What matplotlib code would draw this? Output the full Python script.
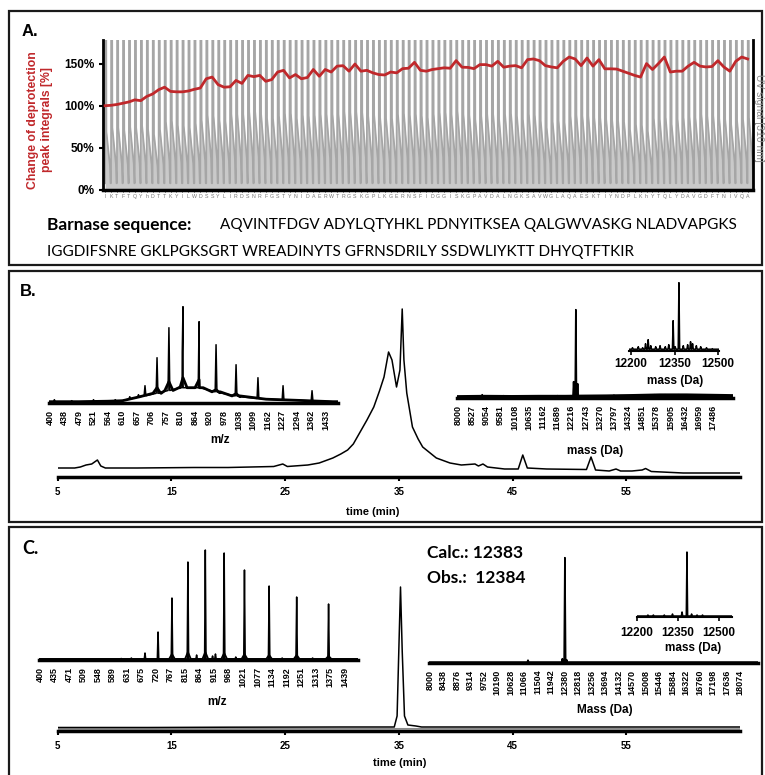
import numpy as np
import matplotlib.pyplot as plt
from matplotlib.patches import Rectangle

W, H = 765, 775
fig = plt.figure(figsize=(W / 100, H / 100), dpi=100)
plt.rcParams['font.family'] = ['Liberation Sans', 'DejaVu Sans']

RED = '#c0282b'
GREY = '#a6a6a6'

# ---------------- data ----------------
# Panel A: residues coupled (C -> N), deprotection change [%] and UV shoulder height
residues = "IKTFTQYhDTTKYILWDSSYLIRDSNRFGSTYNIDAERWTRGSKGPLKGERNSFIDGGISKGPAVDALNGKSAVWGLAQAESKTIYNDPLKhYTQLYDAVGDFTNIVQA"
deprot = [100, 100.5, 101.5, 103, 104.5, 107, 106, 111, 114, 119, 122, 117, 116.5, 116.5, 117.5,
          119.5, 121, 132, 134, 125, 122, 122.5, 130, 126.5, 136, 134.5, 136, 129, 131, 140,
          142, 133, 137, 132, 133.5, 143, 135, 143, 140, 147, 147.5, 141, 149.5, 141, 142,
          139, 137, 136.5, 140, 139, 144, 144.5, 151.5, 142, 141, 143, 144, 145, 144.5, 153.5,
          145.7, 145.5, 144, 148.8, 148.8, 147, 152.7, 145.7, 147, 147.6, 145, 154.7, 155.5, 153.5, 147.6,
          146, 145, 152.7, 157.8, 155.5, 147.6, 156.6, 147, 154.7, 143.8, 143.8, 143.5, 141, 138.5,
          136, 134, 150, 143, 150, 157.8, 140, 141, 141, 147, 151.5, 147, 146, 146.5, 153.5,
          146, 141, 152.7, 157.8, 155.5]
uv_shoulder = [69, 74, 74, 71, 75, 74, 76, 72, 66, 72, 81, 82, 77, 76, 74, 79, 83, 89, 88, 83,
               82, 90, 90, 90, 93, 93, 90, 85, 85, 88, 91, 91, 85, 89, 88, 89, 90, 90, 90, 90,
               93, 92, 93, 92, 88, 89, 86, 85, 85, 90, 91, 89, 90, 88, 86, 90, 92, 92, 90, 94,
               90, 89, 84, 88, 90, 90, 84, 90, 91, 88, 84, 90, 89, 82, 74, 81, 82, 80, 88, 89,
               88, 88, 86, 86, 84, 83, 82, 81, 72, 78, 77, 70, 85, 84, 86, 78, 84, 86, 87, 86,
               90, 88, 88, 85, 84, 78, 82, 84, 86]

seq_line1 = "AQVINTFDGV ADYLQTYHKL PDNYITKSEA QALGWVASKG NLADVAPGKS"
seq_line2 = "IGGDIFSNRE GKLPGKSGRT WREADINYTS GFRNSDRILY SSDWLIYKTT DHYQTFTKIR"

# Panel B: crude product
b_mz_labels = ['400', '438', '479', '521', '564', '610', '657', '706', '757', '810', '864', '920',
               '978', '1038', '1099', '1162', '1227', '1294', '1362', '1433']
b_mz_hump_x = [-0.07, 2, 4, 5, 6.2, 7.6, 8.96, 10.3, 11.7, 13.1, 14.9, 17.2, 19.5, 19.86]
b_mz_hump_y = [1, 1, 1.5, 2, 6, 10, 15, 15, 10, 6, 3.5, 2.3, 1, 1]
b_mz_peak_x = [0.3, 1.5, 3.0, 4.5, 5.5, 5.8, 6.1, 6.55, 7.38, 8.2, 9.12, 9.17, 10.28, 11.45,
               12.83, 14.34, 16.07, 18.07]
b_mz_peak_y = [3, 2, 3, 3, 6, 5, 8, 17, 45, 75, 51, 96, 81, 58, 38, 25, 17, 12]
b_mz_blob_x = [7.38, 8.2, 9.17, 10.28, 11.45, 12.83]
b_mz_blob_y = [15, 21, 25, 23, 13, 9]

b_time = [5, 6.5, 7.0, 7.5, 8.0, 8.5, 8.8, 9.2, 12, 17, 20, 24, 24.8, 25.2, 27, 28, 29.2, 29.9,
          30.5, 31.0, 31.6, 32.2, 32.8, 33.3, 33.7, 34.1, 34.4, 34.8, 35.1, 35.3, 35.45, 35.7, 36.2,
          36.7, 37.1, 38.3, 39.5, 40.5, 41.7, 42.0, 42.4, 42.8, 44.3, 45.5, 45.9, 46.3, 48, 51.5,
          51.9, 52.3, 53.5, 54.1, 54.5, 55.5, 56.4, 56.7, 57.2, 60, 65]
b_signal = [9, 9, 10, 12, 13, 17, 11, 9, 9, 9.5, 9.5, 10.5, 13, 10.5, 12, 14, 19, 23,
            27, 33, 45, 57, 70, 86, 100, 125, 117, 90, 107, 168, 117, 84, 50,
            38, 30, 19, 14, 12, 13, 11, 13, 10, 8, 8, 22, 9, 8, 7.5,
            20, 7, 6, 8, 6, 6, 7, 8.5, 5.5, 4, 4]

b_mass_ticks = [8000 + 527 * i for i in range(19)]
b_mass_base_x = [7963, 9000, 10000, 11000, 12000, 12600, 13500, 14500, 15500, 16500, 17500, 18228]
b_mass_base_y = [0.5, 0.8, 0.6, 0.8, 0.8, 1.0, 1.2, 1.6, 2.2, 2.2, 1.8, 1.5]
b_mass_peak_x = [8900, 9700, 11700, 12300, 12383, 12450, 13800, 15300, 15700, 16200]
b_mass_peak_y = [3, 2, 2, 16, 88, 14, 2.5, 3, 3, 3]

b_zoom_x = [12205, 12225, 12240, 12250, 12259, 12268, 12285, 12300, 12318, 12330, 12345,
            12352, 12365, 12380, 12395, 12405, 12412, 12425, 12440, 12460, 12480]
b_zoom_y = [3, 4, 3, 7, 11, 5, 4, 5, 4, 6, 30, 4, 68, 5, 6, 9, 7, 5, 4, 3, 2]

# Panel C: purified product
c_mz_labels = ['400', '435', '471', '509', '548', '589', '631', '675', '720', '767', '815', '864',
               '915', '968', '1021', '1077', '1134', '1192', '1251', '1313', '1375', '1439']
c_mz_peak_x = [5.6, 6.3, 7.24, 8.14, 9.1, 10.2, 10.8, 11.4, 11.9, 12.1, 12.7, 13.5, 14.1,
               15.8, 16.7, 17.7, 18.8, 19.9]
c_mz_peak_y = [1.5, 2, 7, 28, 62, 98, 5, 110, 4, 6, 107, 3, 90, 74, 2, 63, 2, 56]
c_mz_blob_x = [9.1, 10.2, 11.4, 12.7, 14.1, 15.8, 17.7, 19.9]
c_mz_blob_y = [6, 8, 8, 7, 6, 5, 5, 4]

c_time = [5, 13, 20, 30, 34.6, 34.85, 35.0, 35.15, 35.3, 35.5, 35.8, 36.5, 37, 50, 60, 65]
c_signal = [3.5, 3.5, 3.8, 4, 4, 15, 80, 144, 80, 15, 6, 5, 4, 4, 4, 4]
c_time_grey = [5, 13, 25, 34.5, 36, 54, 60, 65]
c_signal_grey = [2, 2, 2.2, 2.2, 2.2, 2.2, 2, 2]

c_mass_ticks = [8000 + 438 * i for i in range(24)]
c_mass_peak_x = [11184, 12300, 12383, 12440]
c_mass_peak_y = [2.5, 4, 105, 3]

c_zoom_x = [12240, 12260, 12300, 12330, 12365, 12383, 12400, 12420, 12440]
c_zoom_y = [2, 2, 2, 3, 5, 65, 3, 2, 2]


# ---------------- helpers ----------------
def box(x0, y0, x1, y1):
    return [x0 / W, 1 - y1 / H, (x1 - x0) / W, (y1 - y0) / H]


def ftext(x, y, s, **kw):
    fig.text(x / W, 1 - y / H, s, **kw)


def spectrum(bx, by, px, py, w):
    # baseline polyline with narrow triangular peaks on top
    xs, ys = list(bx), list(by)
    for c, h in zip(px, py):
        b = np.interp(c, bx, by)
        xs += [c - w, c, c + w]
        ys += [b, h, b]
    order = np.argsort(xs, kind='stable')
    return np.array(xs)[order], np.array(ys)[order]


def inset(rect, xlim, ylim):
    ax = fig.add_axes(rect)
    ax.set_facecolor('none')
    ax.set_xlim(*xlim)
    ax.set_ylim(*ylim)
    for s in ['top', 'right', 'left']:
        ax.spines[s].set_visible(False)
    ax.set_yticks([])
    return ax


def bold(size, family='Liberation Sans'):
    return dict(fontsize=size, fontweight='bold', family=family)


# ---------------- panel frames ----------------
for y0, y1 in [(11, 265), (271, 522), (527, 800)]:
    fig.patches.append(Rectangle((9 / W, 1 - y1 / H), (762 - 9) / W, (y1 - y0) / H,
                                 transform=fig.transFigure, fill=False, lw=1.6, ec='#1a1a1a'))

# ---------------- panel A ----------------
ax = fig.add_axes(box(103, 40, 753, 190))
n = len(residues)
# one UV cycle per coupling: spike, drop to shoulder, slow decay, back to baseline
cyc_t = [0.0, 0.03, 0.17, 0.22, 0.5, 0.82, 0.92]
uv_x, uv_y, uv_fill = [], [], []
for i, h in enumerate(uv_shoulder):
    uv_x += [i + t for t in cyc_t]
    uv_y += [8, 260, 260, h, 0.72 * h, 0.42 * h, 8]
    uv_fill += [8, h, h, h, 0.72 * h, 0.42 * h, 8]
ax.fill_between(uv_x, 0, uv_fill, color=GREY, alpha=0.6, lw=0, zorder=1)
ax.plot(uv_x, uv_y, color=GREY, lw=1.3, zorder=2)
ax.plot(range(n), deprot, color=RED, lw=2, zorder=3)
ax.set_xlim(-0.35, 108.9)
ax.set_ylim(0, 178)
ax.spines['top'].set_visible(False)
ax.spines['left'].set_linewidth(2)
ax.spines['right'].set_linewidth(2)
ax.spines['bottom'].set_linewidth(2.5)
ax.set_yticks([0, 50, 100, 150])
ax.set_yticklabels(['0%', '50%', '100%', '150%'], **bold(8.5))
ax.tick_params(axis='y', length=3, width=1.5, pad=3)
ax.set_xticks(range(n))
ax.set_xticklabels(list(residues), fontsize=3.8, color='#777777')
ax.tick_params(axis='x', length=1.5, width=0.6, pad=1.5)

ftext(22, 32, 'A.', va='center', **bold(12))
ftext(40, 120, 'Change of deprotection\npeak integrals [%]', rotation=90, ha='center', va='center',
      color=RED, fontsize=8.8, fontweight='bold', multialignment='center', linespacing=1.2)
ftext(759.5, 118, 'UV signal [310 nm]', rotation=270, ha='center', va='center',
      color='#8c8c8c', fontsize=7.5)

ftext(47, 225, 'Barnase sequence:', va='center', **bold(12.5, 'Lato'))
ftext(220, 225, seq_line1, va='center', fontsize=11, family='Lato')
ftext(47, 252, seq_line2, va='center', fontsize=11, family='Lato')

# ---------------- panel B ----------------
ftext(20, 291, 'B.', va='center', **bold(12))

axc = inset(box(57.6, 300, 740, 477), (5, 65), (0, 177))
axc.plot(b_time, b_signal, color='black', lw=1.1)
axc.spines['bottom'].set_linewidth(2.5)
axc.set_xticks([5, 15, 25, 35, 45, 55])
axc.set_xticklabels(['5', '15', '25', '35', '45', '55'], **bold(7))
axc.tick_params(axis='x', length=3, width=1.5, pad=4)
ftext(373, 512, 'time (min)', ha='center', va='center', **bold(8))

axm = inset(box(49, 290, 338, 402.7), (-0.07, 19.86), (0, 112.7))
x, y = spectrum(b_mz_hump_x, b_mz_hump_y, b_mz_blob_x, b_mz_blob_y, 0.28)
axm.plot(x, y, color='black', lw=2)
x, y = spectrum(b_mz_hump_x, b_mz_hump_y, b_mz_peak_x, b_mz_peak_y, 0.06)
axm.plot(x, y, color='black', lw=1.1)
axm.spines['bottom'].set_linewidth(2.5)
axm.set_xticks(range(len(b_mz_labels)))
axm.set_xticklabels(b_mz_labels, rotation=90, **bold(6.5))
axm.tick_params(axis='x', length=0, pad=5)
ftext(220, 440, 'm/z', ha='center', va='center', **bold(8.5))

axd = inset(box(457, 300, 733, 397.7), (7963, 18228), (0, 97.7))
x, y = spectrum(b_mass_base_x, b_mass_base_y, b_mass_peak_x, b_mass_peak_y, 25)
axd.plot(x, y, color='black', lw=1.2)
axd.plot(b_mass_base_x, b_mass_base_y, color='black', lw=3)
axd.spines['bottom'].set_linewidth(2.5)
axd.set_xticks(b_mass_ticks)
axd.set_xticklabels([str(v) for v in b_mass_ticks], rotation=90, **bold(6.5))
axd.tick_params(axis='x', length=0, pad=5)
ftext(595, 451, 'mass (Da)', ha='center', va='center', **bold(8.5))

axz = inset(box(629, 275, 719, 350.7), (12193, 12503), (0, 75.7))
x, y = spectrum([12193, 12503], [1.5, 1.5], b_zoom_x, b_zoom_y, 2.5)
axz.plot(x, y, color='black', lw=1.1)
axz.spines['bottom'].set_linewidth(1.5)
axz.set_xticks([12200, 12350, 12500])
axz.set_xticklabels(['12200', '12350', '12500'], **bold(8.5))
axz.tick_params(axis='x', length=3, width=1.2, pad=2.5)
ftext(675, 381, 'mass (Da)', ha='center', va='center', **bold(8.5))

# ---------------- panel C ----------------
ftext(22, 549, 'C.', va='center', **bold(13, 'Lato'))

axc = inset(box(57.6, 560, 740, 731), (5, 65), (0, 171))
axc.plot(c_time_grey, c_signal_grey, color='#8a8a8a', lw=1.2)
axc.plot(c_time, c_signal, color='black', lw=1.1)
axc.spines['bottom'].set_linewidth(2.5)
axc.set_xticks([5, 15, 25, 35, 45, 55])
axc.set_xticklabels(['5', '15', '25', '35', '45', '55'], **bold(7))
axc.tick_params(axis='x', length=3, width=1.5, pad=4)
ftext(400, 763, 'time (min)', ha='center', va='center', **bold(8))

axm = inset(box(39, 540, 358, 660), (-0.07, 21.93), (0, 120))
x, y = spectrum([-0.07, 21.93], [1, 1], c_mz_blob_x, c_mz_blob_y, 0.2)
axm.plot(x, y, color='black', lw=1.3)
x, y = spectrum([-0.07, 21.93], [1, 1], c_mz_peak_x, c_mz_peak_y, 0.05)
axm.plot(x, y, color='black', lw=1.1)
axm.spines['bottom'].set_linewidth(2.5)
axm.set_xticks(range(len(c_mz_labels)))
axm.set_xticklabels(c_mz_labels, rotation=90, **bold(6.5))
axm.tick_params(axis='x', length=0, pad=5)
ftext(217, 702, 'm/z', ha='center', va='center', **bold(8.5))

axd = inset(box(429, 550, 758, 662.7), (7968, 18657), (0, 112.7))
x, y = spectrum([7968, 18657], [0.6, 0.6], c_mass_peak_x, c_mass_peak_y, 25)
axd.plot(x, y, color='black', lw=1.2)
axd.spines['bottom'].set_linewidth(2.5)
axd.set_xticks(c_mass_ticks)
axd.set_xticklabels([str(v) for v in c_mass_ticks], rotation=90, **bold(6.5))
axd.tick_params(axis='x', length=0, pad=5)
ftext(605, 710, 'Mass (Da)', ha='center', va='center', **bold(8.5))

axz = inset(box(637, 545, 732, 617), (12200, 12548), (0, 72))
x, y = spectrum([12200, 12548], [1, 1], c_zoom_x, c_zoom_y, 2.5)
axz.plot(x, y, color='black', lw=1.1)
axz.spines['bottom'].set_linewidth(1.5)
axz.set_xticks([12200, 12350, 12500])
axz.set_xticklabels(['12200', '12350', '12500'], **bold(8.5))
axz.tick_params(axis='x', length=3, width=1.2, pad=4)
ftext(693, 648, 'mass (Da)', ha='center', va='center', **bold(8.5))

ftext(427, 553, 'Calc.: 12383', va='center', **bold(12.5, 'Lato'))
ftext(427, 578, 'Obs.:  12384', va='center', **bold(12.5, 'Lato'))

fig.savefig('out.png', dpi=100)
